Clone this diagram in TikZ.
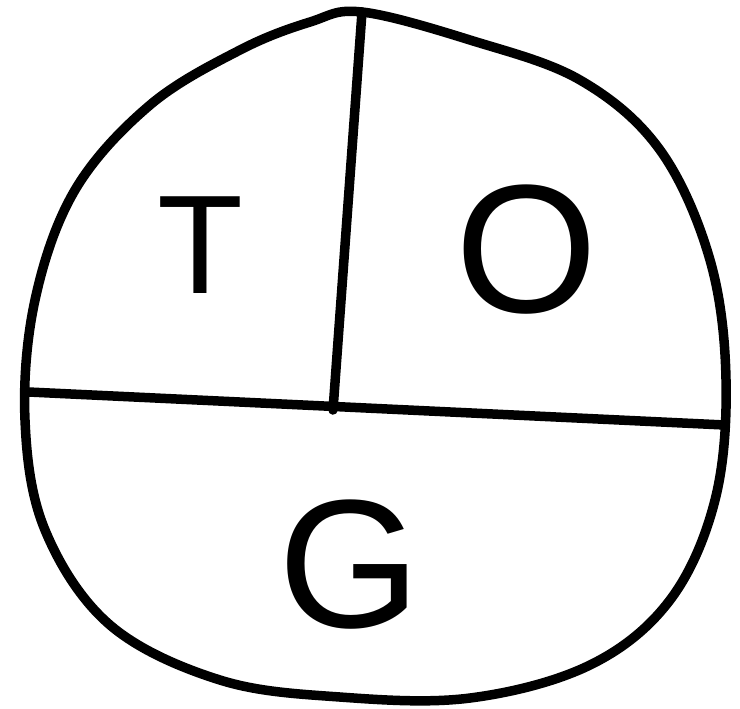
\documentclass[tikz,border=0pt]{standalone}
\usepackage{fontspec}
\setmainfont{Liberation Sans}
\tikzset{
  stroke/.style={line width=2.7pt, line cap=round, line join=round},
  letter/.style={inner sep=0pt, font=\fontsize{#1}{#1}\selectfont}
}
\begin{document}
\begin{tikzpicture}[x=0.01cm, y=-0.01cm]
    \useasboundingbox (0,0) rectangle (740,708);
    % outline
    \draw[stroke] plot[smooth cycle, tension=0.6] coordinates {
        (362,12) (470,40) (580,80) (660,150) (710,260) (726,380)
        (715,500) (670,600) (590,665) (470,698) (340,697) (220,680)
        (110,625) (45,530) (25,420) (35,300) (75,190) (150,105)
        (240,50) (310,22)};
    % dividers
    \coordinate (top) at (362,12);
    \coordinate (mid) at (333,410);
    \coordinate (left) at (29,392);
    \coordinate (right) at (725,425);
    \draw[stroke] (top) -- (mid);
    \draw[stroke] (left) -- (right);
    % letters
    \node[letter=40] (T) at (200,245) {T};
    \node[letter=52] (O) at (527,250) {O};
    \node[letter=52] (G) at (350,565) {G};
\end{tikzpicture}
\end{document}
